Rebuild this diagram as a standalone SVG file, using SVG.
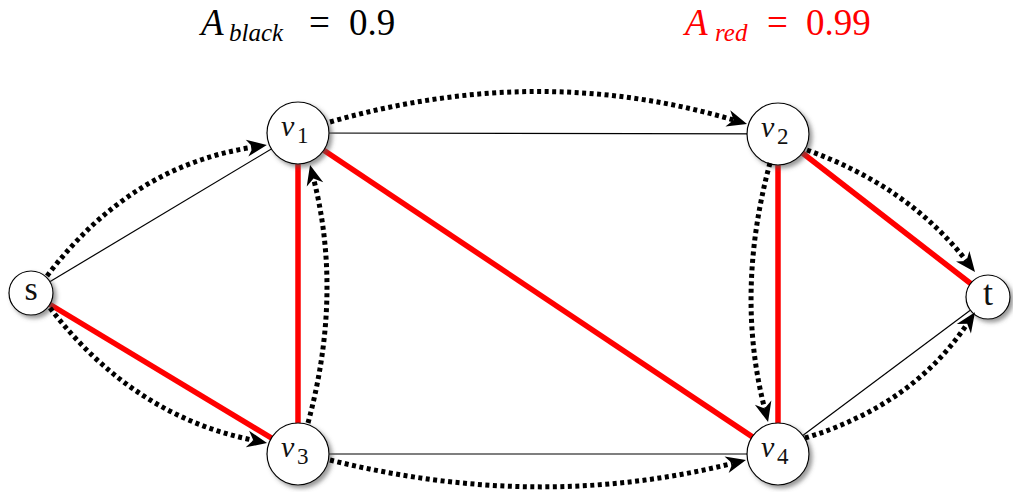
<svg xmlns="http://www.w3.org/2000/svg" width="1013" height="492" viewBox="0 0 1013 492">
<style>
.thin{stroke:#000;stroke-width:1.2;fill:none}
.red{stroke:#ff0000;stroke-width:5.5;fill:none}
.dot{stroke:#000;stroke-width:5;fill:none;stroke-dasharray:4 3.5;marker-end:url(#stealth)}
.nd{fill:#fff;stroke:#000;stroke-width:1.2;filter:url(#sh)}
.it{font-style:italic}
</style>
<defs>
<filter id="sh" x="-30%" y="-30%" width="170%" height="170%">
<feGaussianBlur in="SourceAlpha" stdDeviation="2"/>
<feOffset dx="3" dy="3" result="b"/>
<feFlood flood-color="#555" flood-opacity="0.6"/>
<feComposite in2="b" operator="in"/>
<feMerge><feMergeNode/><feMergeNode in="SourceGraphic"/></feMerge>
</filter>
<marker id="stealth" markerUnits="userSpaceOnUse" markerWidth="22" markerHeight="18" refX="6" refY="8.5" orient="auto" overflow="visible">
<path d="M0,0 L20,8.5 L0,17 L6,8.5 Z" fill="#000"/>
</marker>
</defs>
<rect width="1013" height="492" fill="#fff"/>
<g id="titles">
<text y="35" font-size="37" fill="#000" font-family="Times New Roman, Liberation Serif, serif"><tspan x="201" class="it">A</tspan><tspan x="229" y="41" font-size="25" class="it">black</tspan><tspan x="309" y="35">=</tspan><tspan x="349">0.9</tspan></text>
<text y="35" font-size="37" fill="#ff0000" font-family="serif"><tspan x="685" class="it">A</tspan><tspan x="715" y="41" font-size="25" class="it">red</tspan><tspan x="767" y="35">=</tspan><tspan x="806">0.99</tspan></text>
</g>
<g id="edges">
<line class="thin" x1="31" y1="293" x2="298" y2="133"/>
<line class="thin" x1="298" y1="133" x2="778" y2="134"/>
<line class="thin" x1="298" y1="454" x2="778" y2="454"/>
<line class="thin" x1="778" y1="454" x2="988" y2="297"/>
<line class="red" x1="31" y1="293" x2="298" y2="454"/>
<line class="red" x1="298" y1="133" x2="298" y2="454"/>
<line class="red" x1="298" y1="133" x2="778" y2="454"/>
<line class="red" x1="778" y1="134" x2="778" y2="454"/>
<line class="red" x1="778" y1="134" x2="988" y2="297"/>
</g>
<g font-family="Liberation Serif, Times New Roman, Times, serif" fill="#111">
<g id="node-s"><circle class="nd" cx="31" cy="293" r="22"/><text x="31" y="300" font-size="34" text-anchor="middle">s</text></g>
<g id="node-v1"><circle class="nd" cx="298" cy="133" r="31"/><text y="136" font-size="30"><tspan x="281" class="it">v</tspan><tspan x="297" y="143" font-size="23">1</tspan></text></g>
<g id="node-v2"><circle class="nd" cx="778" cy="134" r="31"/><text y="137" font-size="30"><tspan x="761" class="it">v</tspan><tspan x="777" y="144" font-size="23">2</tspan></text></g>
<g id="node-v3"><circle class="nd" cx="298" cy="454" r="31"/><text y="457" font-size="30"><tspan x="281" class="it">v</tspan><tspan x="297" y="464" font-size="23">3</tspan></text></g>
<g id="node-v4"><circle class="nd" cx="778" cy="454" r="31"/><text y="457" font-size="30"><tspan x="761" class="it">v</tspan><tspan x="777" y="464" font-size="23">4</tspan></text></g>
<g id="node-t"><circle class="nd" cx="988" cy="297" r="22"/><text x="988" y="305" font-size="36" text-anchor="middle">t</text></g>
</g>
<g id="flows">
<path class="dot" d="M47,276 Q130,166 253,147.2"/>
<path class="dot" d="M50,308 Q133,416 253.3,440.2"/>
<path class="dot" d="M330,122 Q538,62 733.6,120"/>
<path class="dot" d="M308,423 Q343,294 313.5,178.5"/>
<path class="dot" d="M770,163 Q735,292.5 764.6,408.5"/>
<path class="dot" d="M330,460 Q538,512 732.4,463.4"/>
<path class="dot" d="M807,150 Q908.6,186.7 966.4,261"/>
<path class="dot" d="M805,438 Q912.6,405.5 967.2,323.8"/>
</g>
</svg>
